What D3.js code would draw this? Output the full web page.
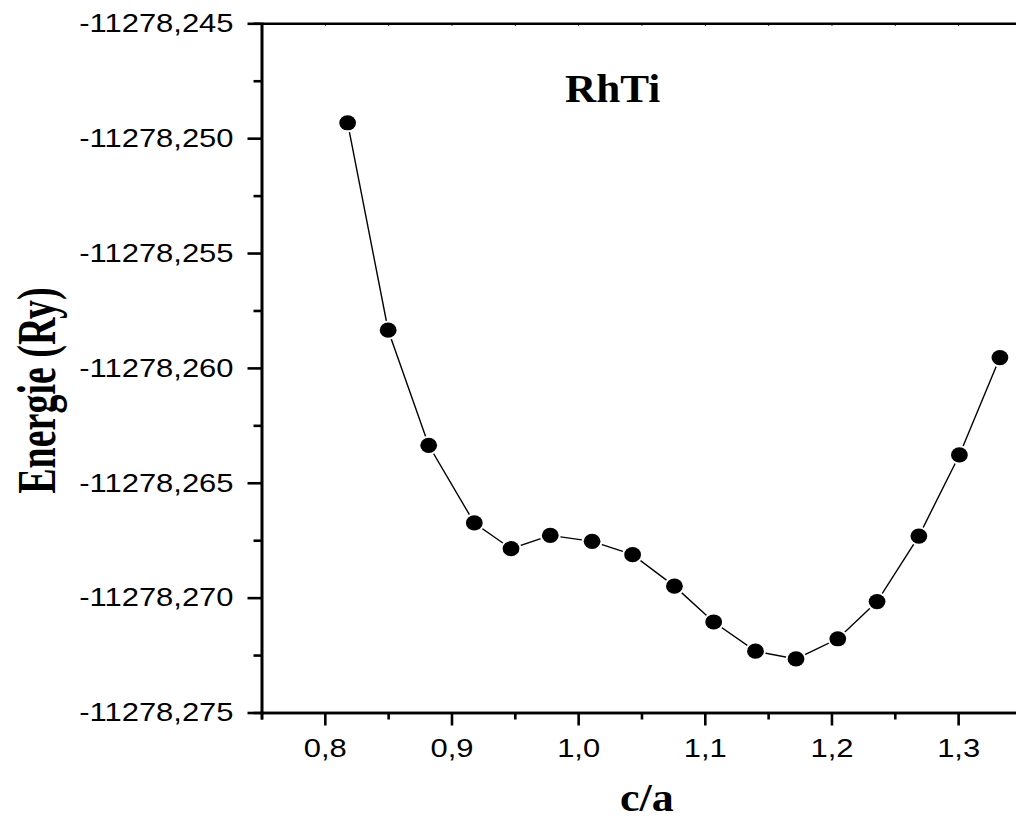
<!DOCTYPE html>
<html>
<head>
<meta charset="utf-8">
<script src="https://cdn.jsdelivr.net/npm/d3@7"></script>
<style>
  body { margin: 0; background: #fff; }
  svg { display: block; }
  .serif { font-family: 'Times New Roman', 'Liberation Serif', Tinos, Times, serif; font-weight: bold; }
</style>
</head>
<body>
<svg id="chart"></svg>
<script>
  // Data
  var ratio = [0.818, 0.850, 0.882, 0.918, 0.947, 0.978, 1.011, 1.043, 1.076,
    1.107, 1.140, 1.172, 1.205, 1.236, 1.269, 1.301, 1.333]
  var energy = [-11278.24933, -11278.25836, -11278.26337, -11278.26675, -11278.26787,
    -11278.26729, -11278.26755, -11278.26813, -11278.26950, -11278.27106,
    -11278.27233, -11278.27267, -11278.27179, -11278.27017, -11278.26732,
    -11278.26379, -11278.25955]
  var xTicks = [0.8, 0.9, 1.0, 1.1, 1.2, 1.3]
  var xMinor = [0.75, 0.85, 0.95, 1.05, 1.15, 1.25, 1.35]
  var yTicks = [-11278.275, -11278.270, -11278.265, -11278.260, -11278.255, -11278.250, -11278.245]
  var yMinor = [-11278.2725, -11278.2675, -11278.2625, -11278.2575, -11278.2525, -11278.2475]
  var xDomain = [0.75, 1.35]
  var yDomain = [-11278.275, -11278.245]
  var title = 'RhTi'
  var xLabel = 'c/a'
  var yLabel = 'Energie (Ry)'

  var WIDTH = 1016
  var HEIGHT = 819
  var LEFT = 261.5
  var TOP = 23.3
  var BOTTOM = 712.5
  var PX_PER_UNIT = 1266.6
  var STRETCH = 1.19

  var svg = d3.select('#chart')
    .attr('width', WIDTH)
    .attr('height', HEIGHT)

  var x = d3.scaleLinear()
    .domain(xDomain)
    .range([LEFT, LEFT + (xDomain[1] - xDomain[0]) * PX_PER_UNIT])

  var y = d3.scaleLinear()
    .domain(yDomain)
    .range([BOTTOM, TOP])

  var locale = d3.formatLocale({ decimal: ',', thousands: '', grouping: [3], currency: ['', ''], minus: '-' })
  var fmtY = locale.format('.3f')
  var fmtX = locale.format('.1f')

  var points = ratio.map(function (r, i) { return { r: r, e: energy[i] } })

  // line + symbols
  var line = d3.line()
    .x(function (d) { return x(d.r) })
    .y(function (d) { return y(d.e) })

  svg.append('path')
    .datum(points)
    .attr('d', line)
    .attr('fill', 'none')
    .attr('stroke', '#000')
    .attr('stroke-width', 1.4)

  svg.append('g')
    .selectAll('ellipse')
    .data(points)
    .enter().append('ellipse')
    .attr('cx', function (d) { return x(d.r) })
    .attr('cy', function (d) { return y(d.e) })
    .attr('rx', 8.4)
    .attr('ry', 7.6)
    .attr('fill', '#000')
    .attr('stroke', '#fff')
    .attr('stroke-width', 4)
    .attr('paint-order', 'stroke')

  // minor ticks
  svg.append('g')
    .attr('transform', 'translate(0,' + BOTTOM + ')')
    .call(d3.axisBottom(x).tickValues(xMinor).tickSize(7).tickFormat(''))
    .call(styleAxis)
  svg.append('g')
    .attr('transform', 'translate(' + LEFT + ',0)')
    .call(d3.axisLeft(y).tickValues(yMinor).tickSize(8).tickFormat(''))
    .call(styleAxis)

  // top frame with tiny inner ticks
  svg.append('g')
    .attr('transform', 'translate(0,' + TOP + ')')
    .call(d3.axisTop(x).tickValues(xTicks.concat(xMinor)).tickSize(-2.5).tickSizeOuter(0).tickFormat(''))
    .call(function (g) {
      g.select('.domain').attr('stroke-width', 2.6)
      g.selectAll('.tick line').attr('stroke-width', 1)
    })

  // major x axis
  var xAxis = svg.append('g')
    .attr('transform', 'translate(0,' + BOTTOM + ')')
    .call(d3.axisBottom(x).tickValues(xTicks).tickSize(13).tickPadding(12.6).tickSizeOuter(0).tickFormat(fmtX))
    .call(styleAxis)
  xAxis.selectAll('text')
    .attr('transform', 'scale(' + STRETCH + ',1)')

  // major y axis
  var yAxis = svg.append('g')
    .attr('transform', 'translate(' + LEFT + ',0)')
    .call(d3.axisLeft(y).tickValues(yTicks).tickSize(14).tickSizeOuter(0).tickFormat(fmtY))
    .call(styleAxis)
  yAxis.selectAll('text')
    .attr('x', -28 / STRETCH)
    .attr('transform', 'scale(' + STRETCH + ',1)')

  function styleAxis (g) {
    g.attr('font-family', null).attr('font-size', null)
    g.select('.domain').attr('stroke-width', 2.6)
    g.selectAll('.tick line').attr('stroke-width', 2.6)
    g.selectAll('text')
      .attr('fill', '#000')
      .style('font-family', 'Arial, "Liberation Sans", sans-serif')
      .style('font-size', '26px')
  }

  // titles
  svg.append('text')
    .attr('class', 'serif')
    .attr('transform', 'translate(565,101.7) scale(1.08,1)')
    .style('font-size', '40px')
    .text(title)

  svg.append('text')
    .attr('class', 'serif')
    .attr('transform', 'translate(620,811) scale(1.1,1)')
    .style('font-size', '40px')
    .text(xLabel)

  svg.append('text')
    .attr('class', 'serif')
    .attr('transform', 'translate(55,390.5) scale(1.45,1) rotate(-90)')
    .attr('text-anchor', 'middle')
    .style('font-size', '38px')
    .text(yLabel)
</script>
</body>
</html>
